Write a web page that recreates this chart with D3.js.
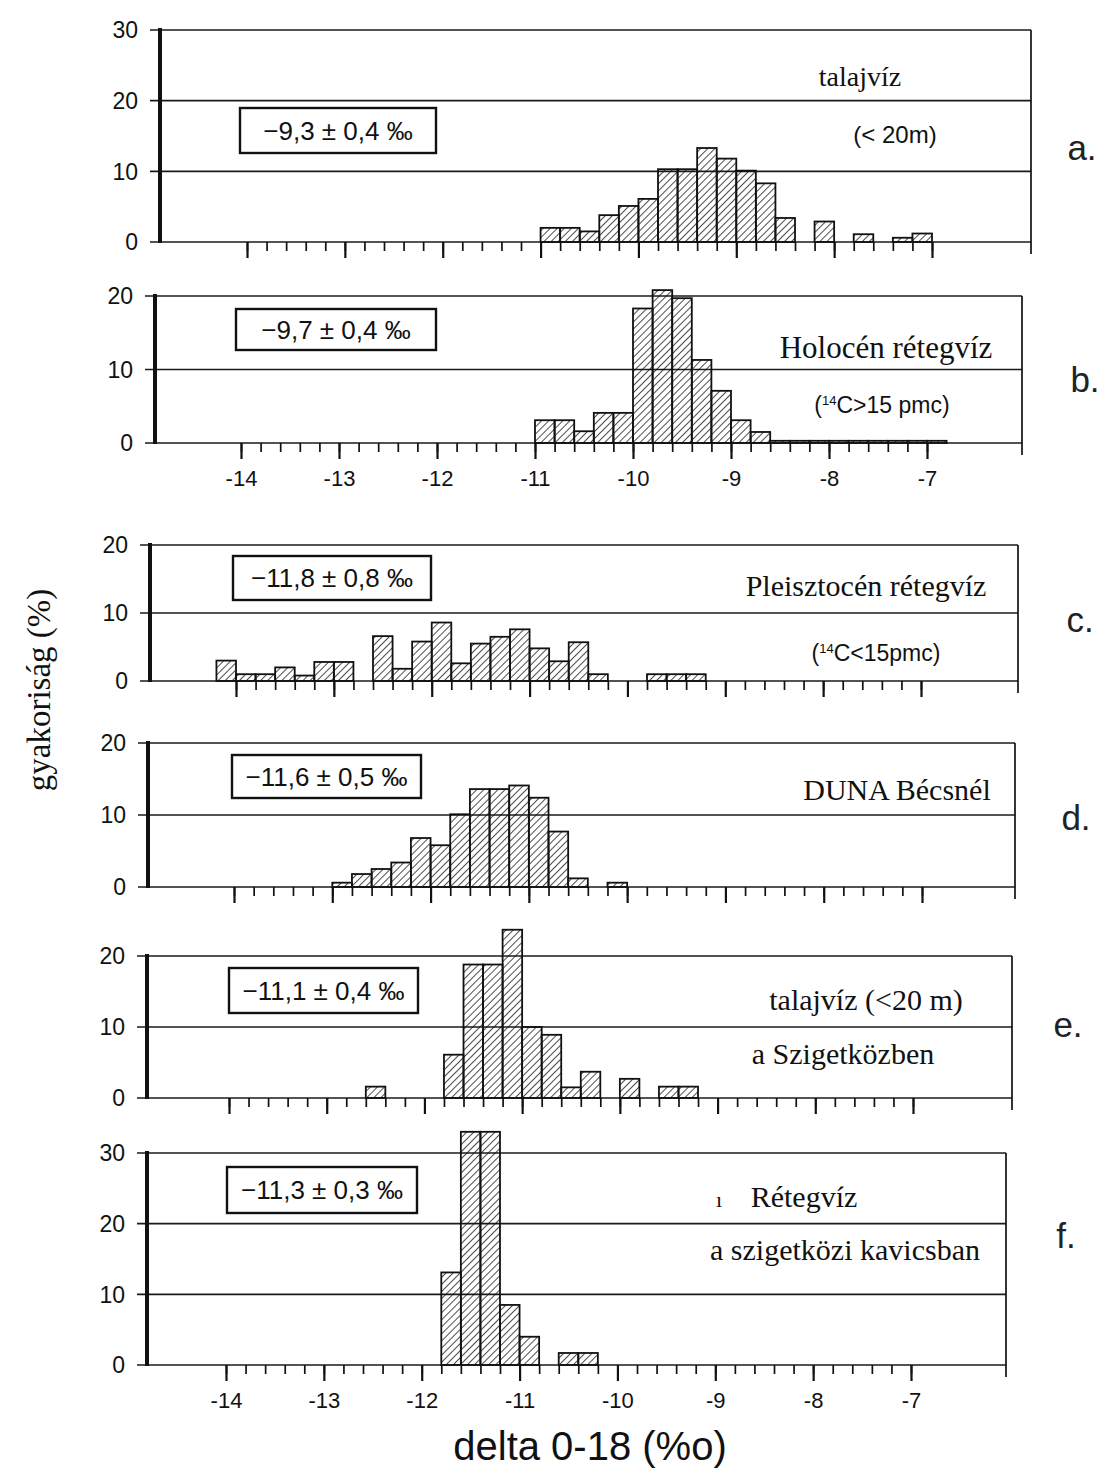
<!DOCTYPE html>
<html>
<head>
<meta charset="utf-8">
<script src="https://cdn.jsdelivr.net/npm/d3@7"></script>
<style>
  body { margin: 0; background: #fff; }
</style>
</head>
<body>
<div id="chart"></div>
<script>
// bin width of the histograms (delta O-18, per mil)
const binWidth = 0.2;

// a. talajvíz (<20m)
const startA = -11.0;
const valuesA = [2.0, 2.0, 1.5, 3.8, 5.1, 6.1, 10.3, 10.3, 13.3, 11.8, 10.1, 8.3, 3.4, 0, 2.9, 0, 1.1, 0, 0.6, 1.2];
// b. Holocén rétegvíz
const startB = -11.0;
const valuesB = [3.1, 3.1, 1.6, 4.1, 4.1, 18.3, 20.8, 19.7, 11.3, 7.1, 3.1, 1.5, 0.3, 0.3, 0.3, 0.3, 0.3, 0.3, 0.3, 0.3, 0.3];
// c. Pleisztocén rétegvíz
const startC = -14.2;
const valuesC = [3.0, 1.0, 1.0, 2.0, 0.8, 2.8, 2.8, 0, 6.6, 1.8, 5.8, 8.6, 2.6, 5.5, 6.5, 7.6, 4.8, 2.9, 5.7, 1.0, 0, 0, 1.0, 1.0, 1.0];
// d. DUNA Bécsnél
const startD = -13.0;
const valuesD = [0.6, 1.8, 2.5, 3.4, 6.8, 5.8, 10.1, 13.6, 13.6, 14.1, 12.4, 7.7, 1.2, 0, 0.6];
// e. talajvíz a Szigetközben
const startE = -12.6;
const valuesE = [1.6, 0, 0, 0, 6.1, 18.8, 18.8, 23.7, 10.0, 8.9, 1.5, 3.7, 0, 2.7, 0, 1.6, 1.6];
// f. Rétegvíz a szigetközi kavicsban
const startF = -11.8;
const valuesF = [13.1, 33.0, 33.0, 8.5, 4.0, 0, 1.7, 1.7];

const xTickValues = [-14, -13, -12, -11, -10, -9, -8, -7];
const yTicks30 = [0, 10, 20, 30];
const yTicks20 = [0, 10, 20];

const meanLabels = ["\u22129,3 \u00b1 0,4 \u2030", "\u22129,7 \u00b1 0,4 \u2030", "\u221211,8 \u00b1 0,8 \u2030",
                    "\u221211,6 \u00b1 0,5 \u2030", "\u221211,1 \u00b1 0,4 \u2030", "\u221211,3 \u00b1 0,3 \u2030"];
const panelLetters = ["a.", "b.", "c.", "d.", "e.", "f."];

const width = 1103, height = 1470;

const svg = d3.select("#chart").append("svg")
    .attr("width", width)
    .attr("height", height)
    .style("font-family", "'Liberation Sans', Arial, sans-serif");

// hatch pattern for the bars
const defs = svg.append("defs");
defs.append("pattern")
    .attr("id", "hatch")
    .attr("patternUnits", "userSpaceOnUse")
    .attr("width", 5)
    .attr("height", 5)
    .attr("patternTransform", "rotate(45)")
    .append("line")
    .attr("x1", 0).attr("y1", 0)
    .attr("x2", 0).attr("y2", 5)
    .attr("stroke", "#111")
    .attr("stroke-width", 1.5);

// panel placement (pixel layout of the scanned figure)
const panels = [
    {start: startA, values: valuesA, max: 30, yTicks: yTicks30, y0: 242, yTop: 30, xr: [247, 932], left: 160, right: 1031,
     box: [240, 108, 196, 45], letter: [1082, 160], labels: false},
    {start: startB, values: valuesB, max: 20, yTicks: yTicks20, y0: 443, yTop: 296, xr: [241, 927], left: 155, right: 1022,
     box: [236, 309, 200, 41], letter: [1085, 392], labels: true},
    {start: startC, values: valuesC, max: 20, yTicks: yTicks20, y0: 681, yTop: 545, xr: [236, 921], left: 150, right: 1018,
     box: [233, 556, 198, 44], letter: [1080, 632], labels: false},
    {start: startD, values: valuesD, max: 20, yTicks: yTicks20, y0: 887, yTop: 743, xr: [234, 922], left: 148, right: 1015,
     box: [232, 755, 189, 43], letter: [1076, 830], labels: false},
    {start: startE, values: valuesE, max: 20, yTicks: yTicks20, y0: 1098, yTop: 956, xr: [229, 913], left: 147, right: 1012,
     box: [229, 968, 189, 45], letter: [1068, 1037], labels: false},
    {start: startF, values: valuesF, max: 30, yTicks: yTicks30, y0: 1365, yTop: 1153, xr: [226, 911], left: 147, right: 1006,
     box: [227, 1167, 190, 46], letter: [1066, 1248], labels: true}
];

function renderPanel(p, i) {
    const x = d3.scaleLinear().domain([-14, -7]).range(p.xr);
    const y = d3.scaleLinear().domain([0, p.max]).range([p.y0, p.yTop]);
    const g = svg.append("g");

    // horizontal grid lines (incl. zero line and top of box)
    g.selectAll(".grid")
        .data(p.yTicks)
        .enter()
        .append("line")
        .attr("x1", p.left - 10)
        .attr("x2", p.right)
        .attr("y1", d => y(d))
        .attr("y2", d => y(d))
        .attr("stroke", "#1a1a1a")
        .attr("stroke-width", 1.7);

    // y labels
    g.selectAll(".ylab")
        .data(p.yTicks)
        .enter()
        .append("text")
        .attr("x", p.left - 22)
        .attr("y", d => y(d))
        .attr("dy", "0.36em")
        .attr("text-anchor", "end")
        .style("font-size", "23px")
        .attr("fill", "#111")
        .text(d => d);

    // bars
    const bins = p.values.map((v, k) => ({x0: p.start + k * binWidth, v: v})).filter(d => d.v > 0);
    g.selectAll(".bar")
        .data(bins)
        .enter()
        .append("rect")
        .attr("x", d => x(d.x0))
        .attr("width", d => x(d.x0 + binWidth) - x(d.x0))
        .attr("y", d => y(d.v))
        .attr("height", d => y(0) - y(d.v))
        .attr("fill", "url(#hatch)")
        .attr("stroke", "#111")
        .attr("stroke-width", 1.8);

    // thick left axis line and thin right edge
    g.append("line")
        .attr("x1", p.left).attr("x2", p.left)
        .attr("y1", y(p.max) - 2).attr("y2", y(0) + 1)
        .attr("stroke", "#111")
        .attr("stroke-width", 4);
    g.append("line")
        .attr("x1", p.right).attr("x2", p.right)
        .attr("y1", y(p.max)).attr("y2", y(0) + 12)
        .attr("stroke", "#111")
        .attr("stroke-width", 1.7);

    // minor ticks every 0.2
    const minor = d3.range(0, 36).map(k => -14 + k * binWidth);
    const minorAxis = g.append("g")
        .attr("transform", "translate(0," + y(0) + ")")
        .call(d3.axisBottom(x).tickValues(minor).tickSize(9).tickFormat(""));
    minorAxis.select(".domain").remove();
    minorAxis.selectAll("line").attr("stroke", "#111").attr("stroke-width", 1.7);

    // major ticks (with labels on panels b and f)
    const majorAxis = g.append("g")
        .attr("transform", "translate(0," + y(0) + ")")
        .call(d3.axisBottom(x).tickValues(xTickValues).tickSize(16).tickPadding(11)
            .tickFormat(p.labels ? (d => d) : ""));
    majorAxis.select(".domain").remove();
    majorAxis.selectAll("line").attr("stroke", "#111").attr("stroke-width", 2.2);
    majorAxis.selectAll("text")
        .attr("fill", "#111")
        .style("font-size", "22px")
        .style("font-family", "'Liberation Sans Narrow', 'Liberation Sans', Arial, sans-serif");

    // mean value box
    g.append("rect")
        .attr("x", p.box[0]).attr("y", p.box[1])
        .attr("width", p.box[2]).attr("height", p.box[3])
        .attr("fill", "#fff")
        .attr("stroke", "#111")
        .attr("stroke-width", 2.4);
    g.append("text")
        .attr("x", p.box[0] + p.box[2] / 2)
        .attr("y", p.box[1] + p.box[3] / 2)
        .attr("dy", "0.36em")
        .attr("text-anchor", "middle")
        .style("font-size", "26px")
        .attr("fill", "#111")
        .text(meanLabels[i]);

    // panel letter
    svg.append("text")
        .attr("x", p.letter[0]).attr("y", p.letter[1])
        .attr("text-anchor", "middle")
        .style("font-size", "35px")
        .attr("fill", "#222")
        .text(panelLetters[i]);
}

panels.forEach(renderPanel);

// descriptive texts inside the panels
const serif = "'Liberation Serif', 'Times New Roman', serif";
function serifText(x, y, size, txt) {
    svg.append("text")
        .attr("x", x).attr("y", y)
        .attr("text-anchor", "middle")
        .style("font-family", serif)
        .style("font-size", size + "px")
        .attr("fill", "#111")
        .text(txt);
}
function sansText(x, y, size, parts) {
    const t = svg.append("text")
        .attr("x", x).attr("y", y)
        .attr("text-anchor", "middle")
        .style("font-size", size + "px")
        .attr("fill", "#111");
    parts.forEach(pt => {
        t.append("tspan")
            .attr("dy", pt.dy || 0)
            .style("font-size", (pt.size || size) + "px")
            .text(pt.t);
    });
}

serifText(860, 86, 28, "talajvíz");
sansText(895, 143, 24, [{t: "(< 20m)"}]);
serifText(886, 358, 31, "Holocén rétegvíz");
sansText(882, 413, 23, [{t: "("}, {t: "14", size: 13, dy: -8}, {t: "C>15 pmc)", dy: 8}]);
serifText(866, 596, 30, "Pleisztocén rétegvíz");
sansText(876, 661, 23, [{t: "("}, {t: "14", size: 13, dy: -8}, {t: "C<15pmc)", dy: 8}]);
serifText(897, 800, 30, "DUNA Bécsnél");
serifText(866, 1010, 30, "talajvíz (<20 m)");
serifText(843, 1064, 30, "a Szigetközben");
serifText(719, 1207, 22, "ı");
serifText(804, 1207, 30, "Rétegvíz");
serifText(845, 1260, 30, "a szigetközi kavicsban");

// axis titles
svg.append("text")
    .attr("transform", "translate(50,690) rotate(-90)")
    .attr("text-anchor", "middle")
    .style("font-family", serif)
    .style("font-size", "33px")
    .attr("fill", "#111")
    .text("gyakoriság (%)");

svg.append("text")
    .attr("x", 590)
    .attr("y", 1460)
    .attr("text-anchor", "middle")
    .style("font-size", "40px")
    .attr("fill", "#111")
    .text("delta 0-18 (%o)");
</script>
</body>
</html>
